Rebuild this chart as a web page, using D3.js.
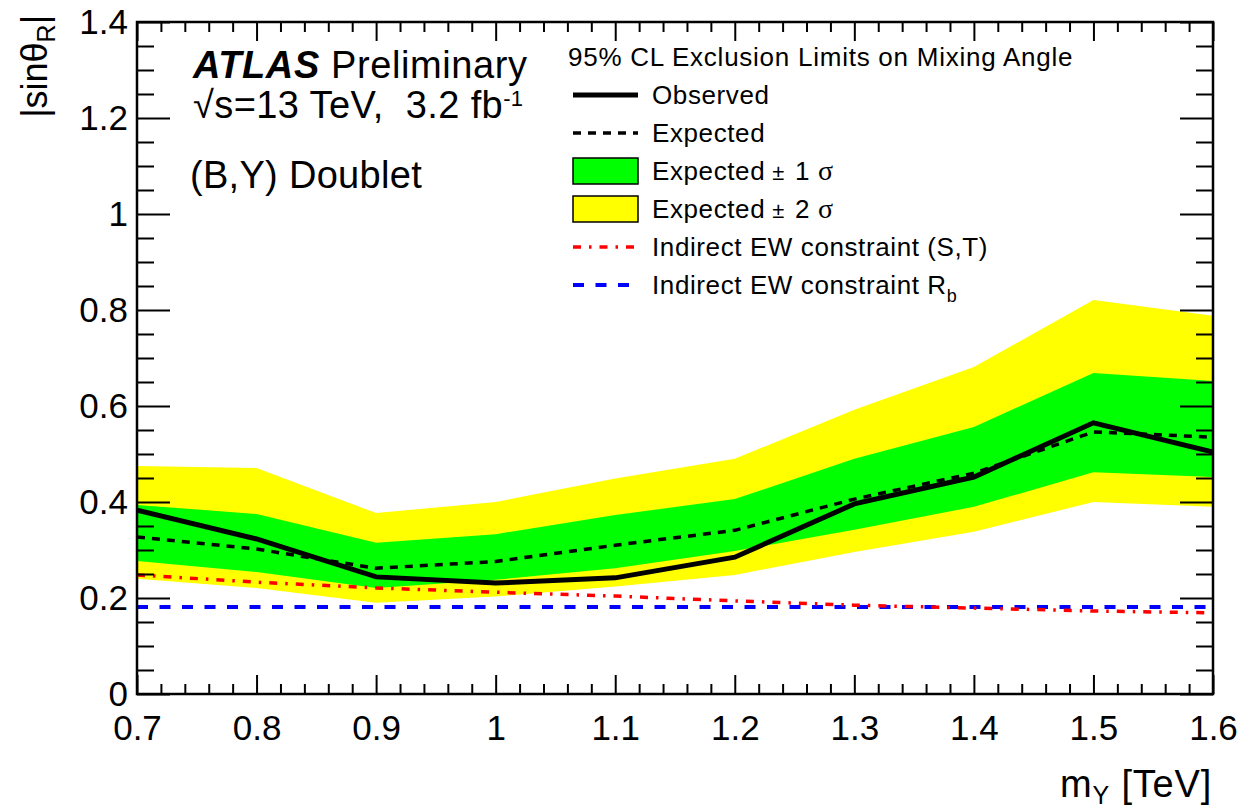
<!DOCTYPE html>
<html>
<head>
<meta charset="utf-8">
<script src="https://cdn.jsdelivr.net/npm/d3@7"></script>
<style>
  body { margin: 0; background: #fff; }
  svg { display: block; }
  text { font-family: "Liberation Sans", Arial, Helvetica, sans-serif; fill: #000; }
</style>
</head>
<body>
<svg id="chart" width="1247" height="809"></svg>
<script>
// Vector-like quark mass points [TeV]
const massTeV = [0.7, 0.8, 0.9, 1.0, 1.1, 1.2, 1.3, 1.4, 1.5, 1.6];

// 95% CL upper limits on |sin theta_R|
const observed = [0.383, 0.323, 0.244, 0.231, 0.242, 0.285, 0.396, 0.452, 0.565, 0.504];
const expected = [0.327, 0.302, 0.262, 0.276, 0.310, 0.341, 0.406, 0.460, 0.546, 0.535];
const sigma1Low  = [0.277, 0.254, 0.221, 0.238, 0.262, 0.298, 0.342, 0.390, 0.462, 0.452];
const sigma1High = [0.394, 0.375, 0.315, 0.333, 0.373, 0.406, 0.490, 0.556, 0.669, 0.652];
const sigma2Low  = [0.240, 0.221, 0.190, 0.203, 0.224, 0.248, 0.296, 0.338, 0.400, 0.390];
const sigma2High = [0.475, 0.471, 0.377, 0.400, 0.449, 0.490, 0.592, 0.681, 0.821, 0.788];

// Indirect electroweak constraints
const ewConstraintST = [0.248, 0.233, 0.221, 0.212, 0.204, 0.194, 0.185, 0.179, 0.173, 0.169];
const ewConstraintRb = [0.181, 0.181, 0.181, 0.181, 0.181, 0.181, 0.181, 0.181, 0.181, 0.181];

// Axis tick labels
const xTickLabels = ["0.7", "0.8", "0.9", "1", "1.1", "1.2", "1.3", "1.4", "1.5", "1.6"];
const yTickLabels = ["0", "0.2", "0.4", "0.6", "0.8", "1", "1.2", "1.4"];

const svg = d3.select("#chart");
const frame = { left: 137, right: 1213, top: 22, bottom: 694 };

const x = d3.scaleLinear().domain([0.7, 1.6]).range([frame.left, frame.right]);
const y = d3.scaleLinear().domain([0, 1.4]).range([frame.bottom, frame.top]);

svg.append("defs").append("clipPath").attr("id", "plotClip")
  .append("rect")
  .attr("x", frame.left).attr("y", frame.top)
  .attr("width", frame.right - frame.left).attr("height", frame.bottom - frame.top);

const plot = svg.append("g").attr("clip-path", "url(#plotClip)");

const band = (lo, hi) => d3.area()
  .x((d, i) => x(massTeV[i]))
  .y0((d, i) => y(lo[i]))
  .y1((d, i) => y(hi[i]));

const line = vals => d3.line()
  .x((d, i) => x(massTeV[i]))
  .y((d, i) => y(vals[i]))(vals);

// ±2σ and ±1σ bands
plot.append("path").attr("d", band(sigma2Low, sigma2High)(massTeV)).attr("fill", "#ffff00");
plot.append("path").attr("d", band(sigma1Low, sigma1High)(massTeV)).attr("fill", "#00ff00");

// EW constraints
plot.append("path").attr("d", line(ewConstraintRb))
  .attr("fill", "none").attr("stroke", "#0000ff").attr("stroke-width", 4)
  .attr("stroke-dasharray", "11,11.5");
plot.append("path").attr("d", line(ewConstraintST))
  .attr("fill", "none").attr("stroke", "#ff0000").attr("stroke-width", 3.5)
  .attr("stroke-dasharray", "8,8,2.5,8");

// Expected and observed limits
plot.append("path").attr("d", line(expected))
  .attr("fill", "none").attr("stroke", "#000").attr("stroke-width", 3.5)
  .attr("stroke-dasharray", "8,7");
plot.append("path").attr("d", line(observed))
  .attr("fill", "none").attr("stroke", "#000").attr("stroke-width", 5)
  .attr("stroke-linejoin", "miter");

// Axes with inward ticks on all four sides
const xMajor = xTickLabels.map(Number);
const xMinor = d3.range(0, 46).map(i => 0.7 + i * 0.02)
  .filter(v => xMajor.every(m => Math.abs(m - v) > 1e-6));
const yMajor = yTickLabels.map(Number);
const yMinor = d3.range(0, 29).map(i => i * 0.05)
  .filter(v => yMajor.every(m => Math.abs(m - v) > 1e-6));

function styleAxis(g) {
  g.select(".domain").remove();
  g.selectAll("line").attr("stroke", "#000").attr("stroke-width", 2);
  g.selectAll("text").attr("font-size", 35).attr("font-family", '"Liberation Sans", Arial, sans-serif').attr("fill", "#000");
}

// bottom
svg.append("g").attr("transform", `translate(0,${frame.bottom})`)
  .call(d3.axisBottom(x).tickValues(xMajor).tickSize(-19).tickPadding(21)
    .tickFormat((d, i) => xTickLabels[i]))
  .call(styleAxis);
svg.append("g").attr("transform", `translate(0,${frame.bottom})`)
  .call(d3.axisBottom(x).tickValues(xMinor).tickSize(-10).tickFormat(""))
  .call(styleAxis);
// top
svg.append("g").attr("transform", `translate(0,${frame.top})`)
  .call(d3.axisTop(x).tickValues(xMajor).tickSize(-19).tickFormat(""))
  .call(styleAxis);
svg.append("g").attr("transform", `translate(0,${frame.top})`)
  .call(d3.axisTop(x).tickValues(xMinor).tickSize(-10).tickFormat(""))
  .call(styleAxis);
// left
svg.append("g").attr("transform", `translate(${frame.left},0)`)
  .call(d3.axisLeft(y).tickValues(yMajor).tickSize(-33).tickPadding(9)
    .tickFormat((d, i) => yTickLabels[i]))
  .call(styleAxis);
svg.append("g").attr("transform", `translate(${frame.left},0)`)
  .call(d3.axisLeft(y).tickValues(yMinor).tickSize(-17).tickFormat(""))
  .call(styleAxis);
// right
svg.append("g").attr("transform", `translate(${frame.right},0)`)
  .call(d3.axisRight(y).tickValues(yMajor).tickSize(-33).tickFormat(""))
  .call(styleAxis);
svg.append("g").attr("transform", `translate(${frame.right},0)`)
  .call(d3.axisRight(y).tickValues(yMinor).tickSize(-17).tickFormat(""))
  .call(styleAxis);

// frame
svg.append("rect")
  .attr("x", frame.left).attr("y", frame.top)
  .attr("width", frame.right - frame.left).attr("height", frame.bottom - frame.top)
  .attr("fill", "none").attr("stroke", "#000").attr("stroke-width", 2.5);

// axis titles
const xTitle = svg.append("text")
  .attr("x", 1212).attr("y", 797).attr("text-anchor", "end")
  .attr("font-size", 38).attr("letter-spacing", 0.8);
xTitle.append("tspan").text("m");
xTitle.append("tspan").attr("font-size", 25).attr("dy", 7).text("Y");
xTitle.append("tspan").attr("dy", -7).text("\u00A0[TeV]");

const yTitle = svg.append("text")
  .attr("transform", "translate(47,15) rotate(-90)")
  .attr("text-anchor", "end").attr("font-size", 36);
yTitle.append("tspan").text("|sinθ");
yTitle.append("tspan").attr("font-size", 25).attr("dy", 8).text("R");
yTitle.append("tspan").attr("dy", -8).text("|");

// experiment label
const atlas = svg.append("text").attr("x", 193).attr("y", 78)
  .attr("font-size", 38).attr("letter-spacing", 0.6);
atlas.append("tspan").attr("font-weight", "bold").attr("font-style", "italic").text("ATLAS");
atlas.append("tspan").text("\u00A0Preliminary");

const energy = svg.append("text").attr("x", 193).attr("y", 118)
  .attr("font-size", 38).attr("letter-spacing", 0.4);
energy.append("tspan").text("√s=13 TeV,\u00A0\u00A03.2 fb");
energy.append("tspan").attr("font-size", 22).attr("dy", -12).text("-1");

svg.append("text").attr("x", 190).attr("y", 188).attr("font-size", 38)
  .attr("letter-spacing", 0.3).text("(B,Y) Doublet");

// legend
const lg = svg.append("g");
lg.append("text").attr("x", 568).attr("y", 66).attr("font-size", 26)
  .attr("letter-spacing", 0.75)
  .text("95% CL Exclusion Limits on Mixing Angle");

const legendRows = [
  { label: "Observed", kind: "line", stroke: "#000", width: 5, dash: null },
  { label: "Expected", kind: "line", stroke: "#000", width: 3.5, dash: "8,7" },
  { label: "Expected", sigma: "1", kind: "box", fill: "#00ff00" },
  { label: "Expected", sigma: "2", kind: "box", fill: "#ffff00" },
  { label: "Indirect EW constraint (S,T)", kind: "line", stroke: "#ff0000", width: 3.5, dash: "8,8,2.5,8" },
  { label: "Indirect EW constraint R", sub: "b", kind: "line", stroke: "#0000ff", width: 4, dash: "11,11.5" }
];
const rowY0 = 95, rowStep = 38;
legendRows.forEach((r, i) => {
  const cy = rowY0 + i * rowStep;
  if (r.kind === "line") {
    lg.append("line").attr("x1", 573).attr("x2", 638).attr("y1", cy).attr("y2", cy)
      .attr("stroke", r.stroke).attr("stroke-width", r.width)
      .attr("stroke-dasharray", r.dash);
  } else {
    lg.append("rect").attr("x", 573).attr("y", cy - 13).attr("width", 65).attr("height", 26)
      .attr("fill", r.fill).attr("stroke", "#000").attr("stroke-width", 1.5);
  }
  const t = lg.append("text").attr("x", 652).attr("y", cy + 9)
    .attr("font-size", 26).attr("letter-spacing", 0.6);
  t.append("tspan").text(r.label);
  if (r.sigma) {
    t.append("tspan").attr("font-size", 22).attr("dx", 7).text("±");
    t.append("tspan").attr("dx", 10).text(r.sigma);
    t.append("tspan").attr("dx", 8).attr("font-size", 28)
      .attr("font-family", '"Liberation Serif", "DejaVu Serif", serif').text("σ");
  }
  if (r.sub) {
    t.append("tspan").attr("font-size", 18).attr("dy", 8).text(r.sub);
  }
});
</script>
</body>
</html>
